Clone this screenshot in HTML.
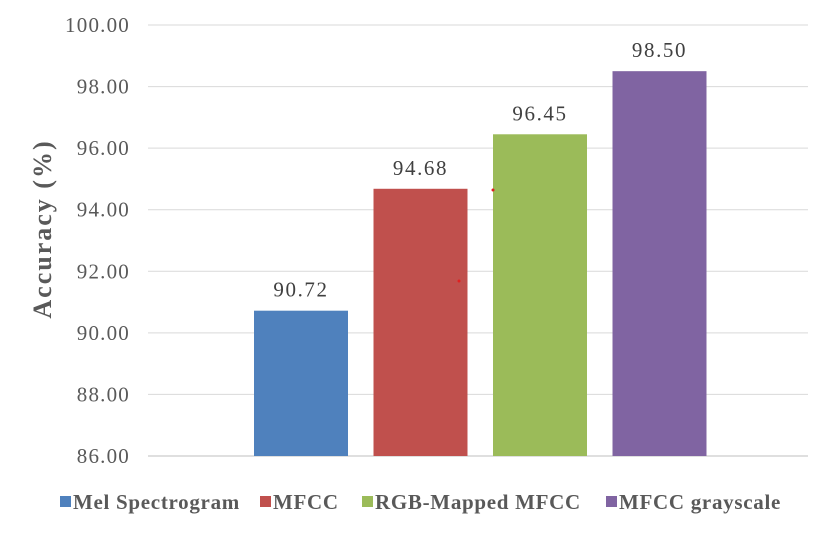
<!DOCTYPE html>
<html><head><meta charset="utf-8"><style>
body{margin:0;background:#fff;}
svg{display:block;font-family:"Liberation Serif",serif;}
</style></head><body>
<svg id="chart" width="832" height="533" viewBox="0 0 832 533"></svg>
<script>
const categories = ["Mel Spectrogram","MFCC","RGB-Mapped MFCC","MFCC grayscale"];
const values = [90.72, 94.68, 96.45, 98.50];
const valueLabels = ["90.72","94.68","96.45","98.50"];
const yTicks = [86,88,90,92,94,96,98,100];
const colors = ["#4F81BD","#C0504D","#9BBB59","#8064A2"];

const NS="http://www.w3.org/2000/svg";
const svg=document.getElementById('chart');
function mk(tag,attrs,parent){const e=document.createElementNS(NS,tag);for(const k in attrs)e.setAttribute(k,attrs[k]);(parent||svg).appendChild(e);return e;}
const yMin=86,yMax=100,yTop=25,yBot=456;
function y(v){return yBot-(v-yMin)/(yMax-yMin)*(yBot-yTop);}
function xc(i){return 301+i*119.5;}
const barW=94;

yTicks.forEach(t=>{
  const g=mk('line',{x1:148,x2:808,y1:y(t),y2:y(t),stroke:t===yMin?'#bfbfbf':'#d9d9d9','stroke-width':1});
  
  
  const l=mk('text',{x:130,y:y(t)+7,'text-anchor':'end','font-size':21,'letter-spacing':1.2,fill:'#595959'});
  l.textContent=t.toFixed(2);
  
  
});

values.forEach((v,i)=>{
  const r=mk('rect',{x:xc(i)-barW/2,y:y(v),width:barW,height:yBot-y(v),fill:colors[i]});
  
  
  const t=mk('text',{x:xc(i),y:y(v)-14,'text-anchor':'middle','font-size':21,'letter-spacing':1.6,fill:'#404040'});
  t.textContent=valueLabels[i];
  
  
});

const title=mk('text',{x:0,y:0,transform:'translate(51,229) rotate(-90)','text-anchor':'middle','font-size':26,'letter-spacing':2,'font-weight':'bold',fill:'#595959'});
title.textContent='Accuracy (%)';



const legX=[60,260,362,606];
categories.forEach((c,i)=>{
  const s=mk('rect',{x:legX[i],y:496,width:11,height:11,fill:colors[i]});
  
  
  const t=mk('text',{x:legX[i]+13,y:509,'font-size':21,'letter-spacing':0.7,'font-weight':'bold',fill:'#595959'});
  t.textContent=c;
  
  
});

[[459,281],[493,190]].forEach(p=>{
  const d=mk('circle',{cx:p[0],cy:p[1],r:1.5,fill:'#e02020'});
  
  
});
</script>
</body></html>
